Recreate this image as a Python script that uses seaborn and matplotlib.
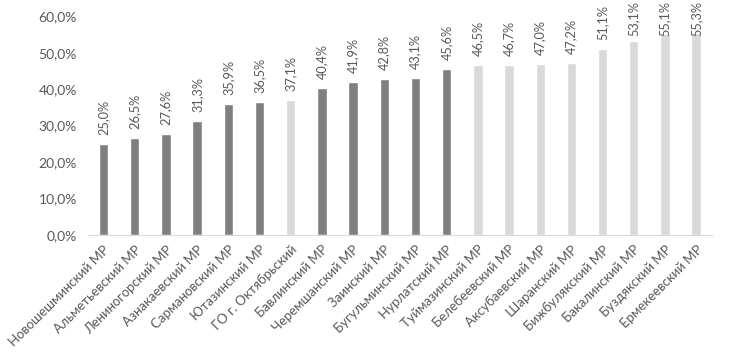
import matplotlib
matplotlib.use("Agg")
import matplotlib.pyplot as plt
import seaborn as sns
import pandas as pd

districts = [
    "Новошешминский МР", "Альметьевский МР", "Лениногорский МР", "Азнакаевский МР",
    "Сармановский МР", "Ютазинский МР", "ГО г. Октябрьский", "Бавлинский МР",
    "Черемшанский МР", "Заинский МР", "Бугульминский МР", "Нурлатский МР",
    "Туймазинский МР", "Белебеевский МР", "Аксубаевский МР", "Шаранский МР",
    "Бижбулякский МР", "Бакалинский МР", "Буздякский МР", "Ермекеевский МР",
]
shares = [25.0, 26.5, 27.6, 31.3, 35.9, 36.5, 37.1, 40.4, 41.9, 42.8,
          43.1, 45.6, 46.5, 46.7, 47.0, 47.2, 51.1, 53.1, 55.1, 55.3]
groups = ["a"] * 6 + ["b"] + ["a"] * 5 + ["b"] * 8

df = pd.DataFrame({"district": districts, "share": shares, "group": groups})

sns.set_style("white")
plt.rcParams["font.family"] = ["Lato", "DejaVu Sans"]
text_color = "#595959"

fig = plt.figure(figsize=(7.3, 3.6), dpi=100)
ax = fig.add_axes([0.1205, 0.347, 0.8545, 0.608])

palette = {"a": "#7f7f7f", "b": "#d9d9d9"}
sns.barplot(data=df, x="district", y="share", hue="group", palette=palette,
            dodge=False, width=0.3, legend=False, ax=ax, saturation=1)

ax.set_ylim(0, 60)
ax.set_xlim(-0.5, len(shares) - 0.5)

labels = []
for i, v in enumerate(shares):
    t = ax.text(i, v + 2.5, f"{v:.1f}%".replace(".", ","), rotation=90,
                ha="center", va="bottom", fontsize=9.2, color=text_color, clip_on=False)
    labels.append(t)

ax.set_yticks(range(0, 61, 10))
ax.set_yticklabels([f"{t},0%" for t in range(0, 61, 10)], fontsize=10, color=text_color)
ax.set_xticks(range(len(shares)))
ax.set_xticklabels(df["district"], rotation=45, ha="right", rotation_mode="anchor",
                   fontsize=9.5, color=text_color)
ax.tick_params(axis="y", length=0, pad=8)
ax.tick_params(axis="x", length=0, pad=6)
ax.set_xlabel("")
ax.set_ylabel("")
for s in ["top", "right", "left"]:
    ax.spines[s].set_visible(False)
ax.spines["bottom"].set_color("#d9d9d9")

# push labels down where they would run off the top (as Excel does)
fig.canvas.draw()
renderer = fig.canvas.get_renderer()
limit = fig.bbox.height - 1
for t in labels:
    bb = t.get_window_extent(renderer)
    if bb.y1 > limit:
        x, y = t.get_position()
        y_disp = ax.transData.transform((x, y))[1] - (bb.y1 - limit)
        t.set_y(ax.transData.inverted().transform((0, y_disp))[1])

fig.savefig("out.png", dpi=100)
